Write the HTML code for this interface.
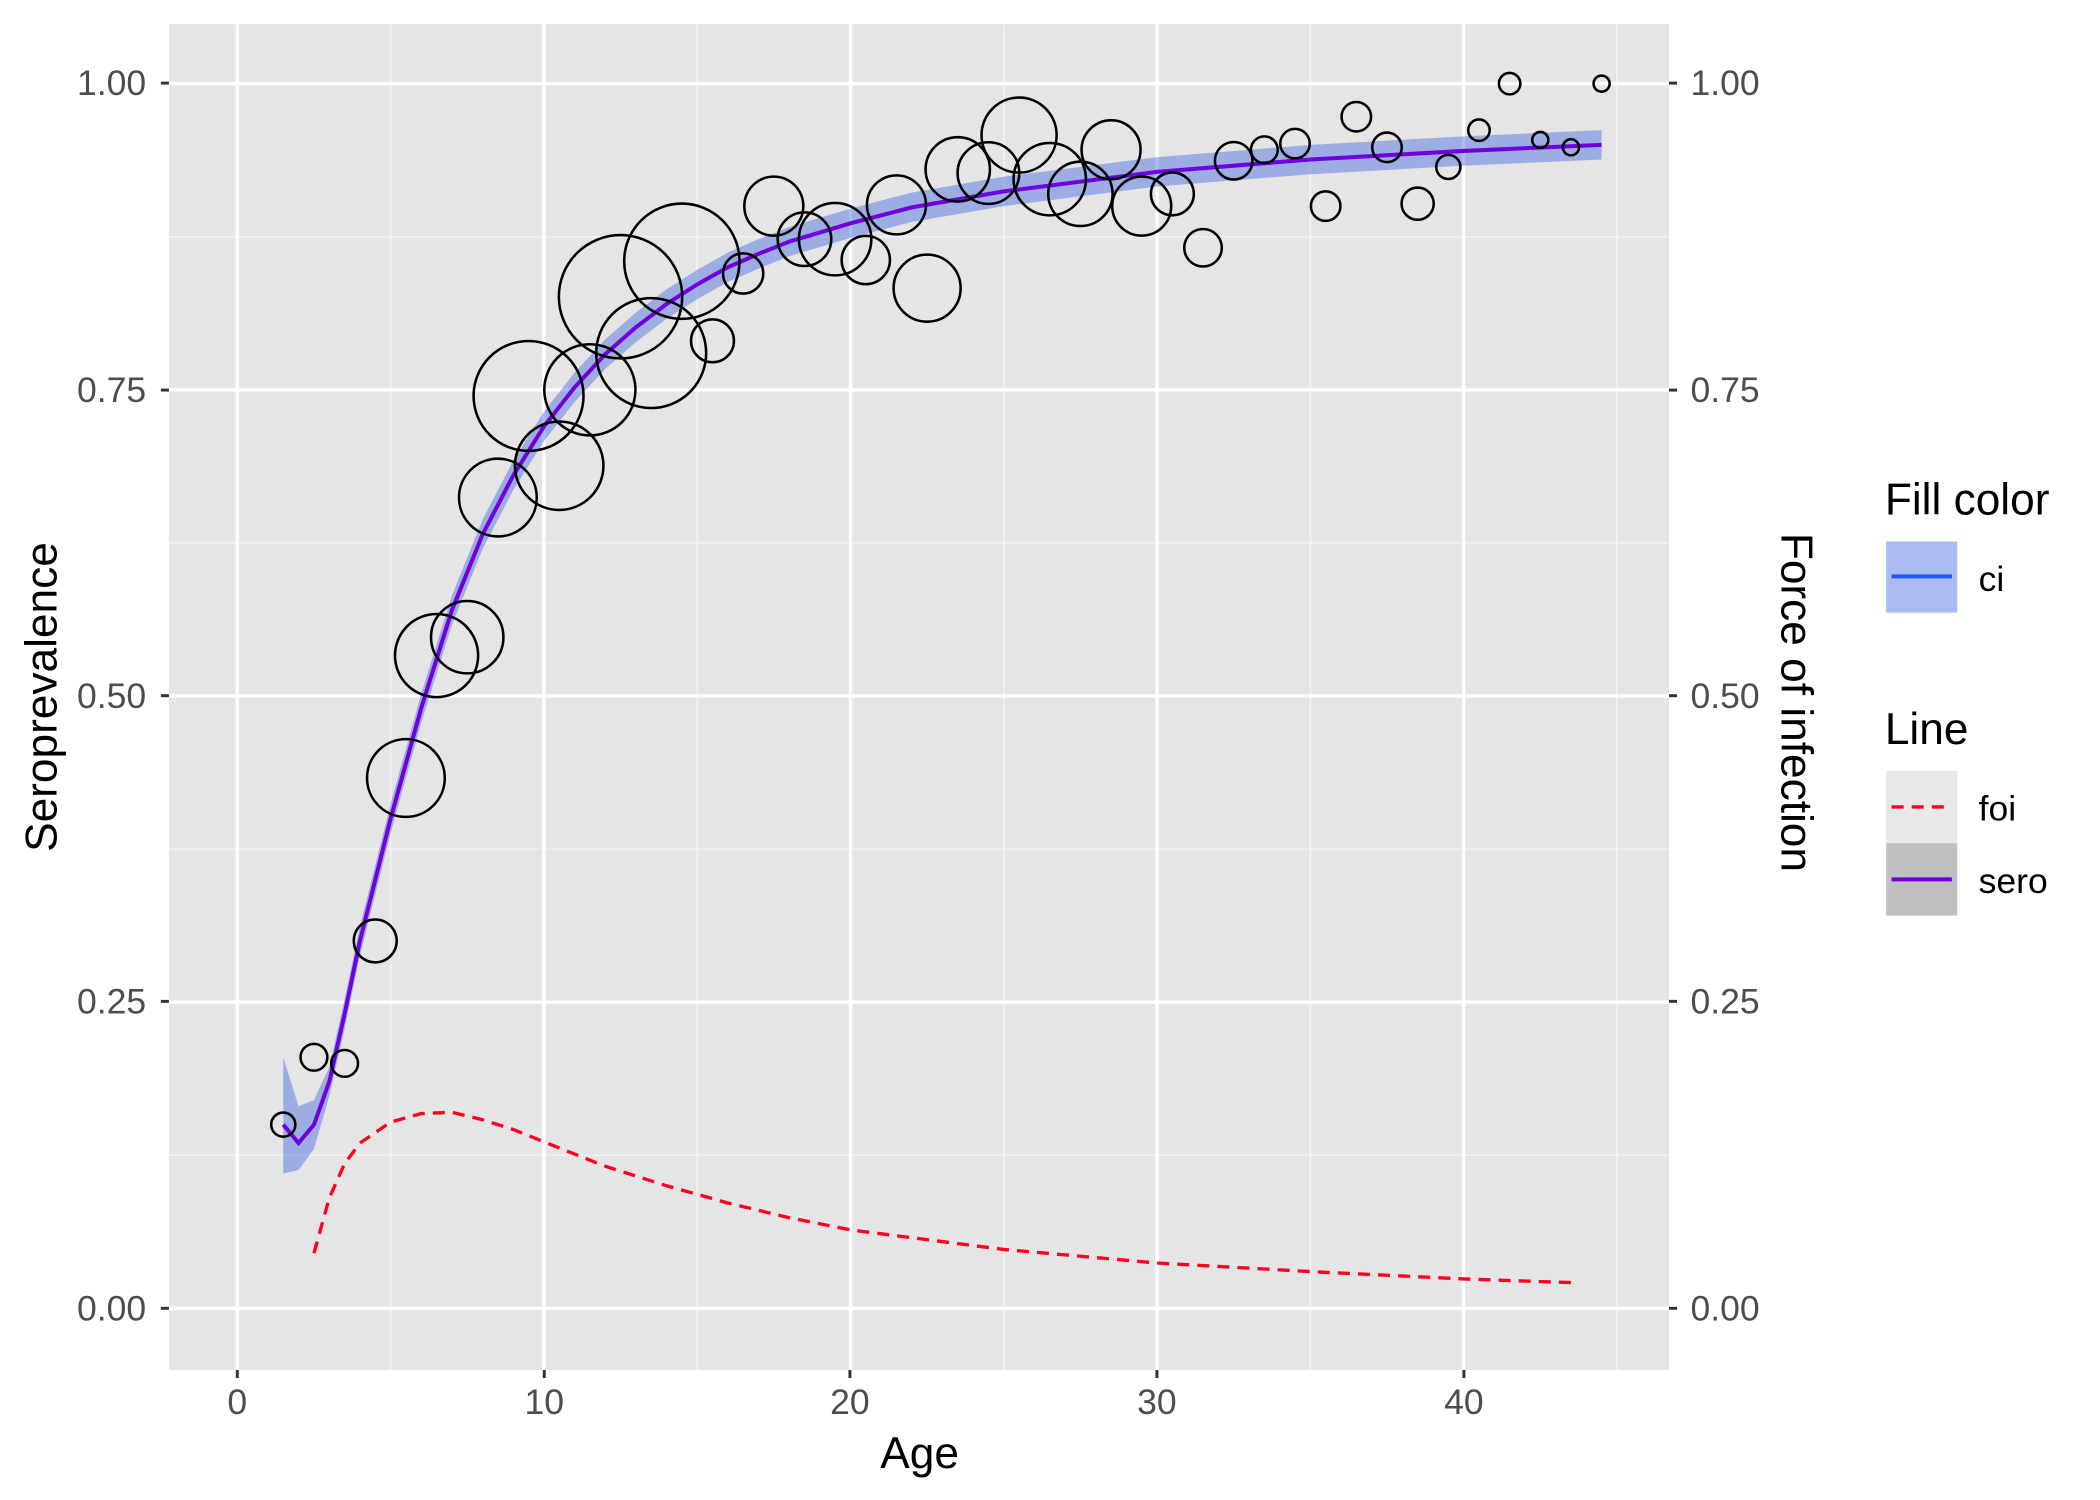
<!DOCTYPE html>
<html><head><meta charset="utf-8"><style>html,body{margin:0;padding:0;background:#fff}svg{display:block}text{font-family:"Liberation Sans",sans-serif}</style></head>
<body>
<svg id="s" width="2100" height="1500" viewBox="0 0 1566.5 1119" preserveAspectRatio="none" xmlns="http://www.w3.org/2000/svg">
<rect x="0" y="0" width="1567" height="1119" fill="#fff"/>
<rect x="126" y="18" width="1119" height="1004" fill="#e5e5e5"/>
<g id="grid"></g>
<path id="band" fill="#4169e1" fill-opacity="0.45" stroke="none"/>
<path id="foi" fill="none" stroke="#ff0022" stroke-width="2.5" stroke-dasharray="9,6"/>
<path id="sero" fill="none" stroke="#7000dd" stroke-width="3"/>
<g id="circ" fill="none" stroke="#000" stroke-width="1.9"></g>
<g font-size="26.5" fill="#4d4d4d" text-anchor="end">
<text x="109" y="71">1.00</text><text x="109" y="300">0.75</text><text x="109" y="528">0.50</text><text x="109" y="756">0.25</text><text x="109" y="985">0.00</text>
</g>
<g font-size="26.5" fill="#4d4d4d" text-anchor="start">
<text x="1261" y="71">1.00</text><text x="1261" y="300">0.75</text><text x="1261" y="528">0.50</text><text x="1261" y="756">0.25</text><text x="1261" y="985">0.00</text>
</g>
<g font-size="26.5" fill="#4d4d4d" text-anchor="middle">
<text x="177" y="1055">0</text><text x="406" y="1055">10</text><text x="634" y="1055">20</text><text x="863" y="1055">30</text><text x="1092" y="1055">40</text>
</g>
<g stroke="#333" stroke-width="2.2">
<line x1="120" y1="62" x2="126" y2="62"/><line x1="120" y1="291" x2="126" y2="291"/><line x1="120" y1="519" x2="126" y2="519"/><line x1="120" y1="747" x2="126" y2="747"/><line x1="120" y1="976" x2="126" y2="976"/>
<line x1="1245" y1="62" x2="1251" y2="62"/><line x1="1245" y1="291" x2="1251" y2="291"/><line x1="1245" y1="519" x2="1251" y2="519"/><line x1="1245" y1="747" x2="1251" y2="747"/><line x1="1245" y1="976" x2="1251" y2="976"/>
<line x1="177" y1="1022" x2="177" y2="1028"/><line x1="406" y1="1022" x2="406" y2="1028"/><line x1="634" y1="1022" x2="634" y2="1028"/><line x1="863" y1="1022" x2="863" y2="1028"/><line x1="1092" y1="1022" x2="1092" y2="1028"/>
</g>
<text x="686" y="1095" font-size="33" text-anchor="middle" fill="#000">Age</text>
<text transform="translate(42,520) rotate(-90)" font-size="33" text-anchor="middle" fill="#000">Seroprevalence</text>
<text transform="translate(1329,524) rotate(90)" font-size="33" text-anchor="middle" fill="#000">Force of infection</text>
<text x="1406" y="384" font-size="33" fill="#000">Fill color</text>
<rect x="1407" y="404" width="53" height="53" fill="#4169e1" fill-opacity="0.45"/>
<line x1="1411" y1="430" x2="1456" y2="430" stroke="#2255ff" stroke-width="3"/>
<text x="1476" y="441" font-size="26.5" fill="#000">ci</text>
<text x="1406" y="555" font-size="33" fill="#000">Line</text>
<rect x="1407" y="575" width="53" height="54" fill="#e8e8e8"/>
<rect x="1407" y="629" width="53" height="54" fill="#c0c0c0"/>
<line x1="1411" y1="602" x2="1456" y2="602" stroke="#ff0022" stroke-width="2.5" stroke-dasharray="9,6"/>
<line x1="1411" y1="656" x2="1456" y2="656" stroke="#7000dd" stroke-width="3"/>
<text x="1476" y="612" font-size="26.5" fill="#000">foi</text>
<text x="1476" y="666" font-size="26.5" fill="#000">sero</text>
</svg>
<script>
var X=a=>177+a*22.87, Y=v=>976-v*913.6;
var g=document.getElementById('grid'),h='';
[5,15,25,35,45].forEach(a=>h+='<line x1="'+X(a)+'" x2="'+X(a)+'" y1="18" y2="1022" stroke="#f2f2f2" stroke-width="1.3"/>');
[0.125,0.375,0.625,0.875].forEach(v=>h+='<line y1="'+Y(v)+'" y2="'+Y(v)+'" x1="126" x2="1245" stroke="#f2f2f2" stroke-width="1.3"/>');
[0,10,20,30,40].forEach(a=>h+='<line x1="'+X(a)+'" x2="'+X(a)+'" y1="18" y2="1022" stroke="#fff" stroke-width="2.5"/>');
[0,0.25,0.5,0.75,1].forEach(v=>h+='<line y1="'+Y(v)+'" y2="'+Y(v)+'" x1="126" x2="1245" stroke="#fff" stroke-width="2.5"/>');
g.innerHTML=h;
var S=[[1.5,0.15],[2,0.135],[2.5,0.15],[3,0.185],[3.5,0.24],[4,0.3],[5,0.4],[6,0.49],[7,0.57],[8,0.632],[9,0.68],[10,0.72],[11,0.752],[12,0.779],[13,0.801],[14,0.82],[15,0.836],[16,0.85],[17,0.861],[18,0.871],[20,0.886],[22,0.899],[25,0.912],[30,0.928],[35,0.938],[40,0.945],[44.5,0.95]];
document.getElementById('sero').setAttribute('d','M'+S.map(p=>X(p[0]).toFixed(1)+','+Y(p[1]).toFixed(1)).join(' L'));
var up=S.map(p=>{var w=p[0]<2.2?(p[0]<1.8?0.055:0.03):(p[0]<3?0.02:0.012);return [p[0],p[1]+w];});
var lo=S.map(p=>{var w=p[0]<2.2?(p[0]<1.8?0.04:0.022):(p[0]<3?0.02:0.012);return [p[0],p[1]-w];});
document.getElementById('band').setAttribute('d','M'+up.map(p=>X(p[0]).toFixed(1)+','+Y(p[1]).toFixed(1)).join(' L')+' L'+lo.reverse().map(p=>X(p[0]).toFixed(1)+','+Y(p[1]).toFixed(1)).join(' L')+'Z');
var F=[[2.5,0.045],[3,0.09],[3.5,0.118],[4,0.135],[5,0.152],[6,0.159],[7,0.16],[8,0.154],[9,0.146],[10,0.136],[12,0.116],[14,0.1],[16,0.086],[18,0.074],[20,0.064],[25,0.048],[30,0.037],[35,0.03],[40,0.024],[43.5,0.021]];
document.getElementById('foi').setAttribute('d','M'+F.map(p=>X(p[0]).toFixed(1)+','+Y(p[1]).toFixed(1)).join(' L'));
var C=[[1.5,0.15,9],[2.5,0.205,10],[3.5,0.2,10],[4.5,0.3,16],[5.5,0.433,29],[6.5,0.533,31],[7.5,0.548,27],[8.5,0.662,29],[9.5,0.745,41],[10.5,0.688,33],[11.5,0.75,34],[12.5,0.826,46],[13.5,0.78,41],[14.5,0.855,43],[15.5,0.79,16],[16.5,0.845,15],[17.5,0.9,22],[18.5,0.873,20],[19.5,0.873,27],[20.5,0.856,18],[21.5,0.901,22],[22.5,0.833,25],[23.5,0.93,24],[24.5,0.927,23],[25.5,0.958,28],[26.5,0.922,27],[27.5,0.91,24],[28.5,0.946,22],[29.5,0.9,22],[30.5,0.91,16],[31.5,0.866,14],[32.5,0.937,14],[33.5,0.946,10],[34.5,0.951,11],[35.5,0.9,11],[36.5,0.973,11],[37.5,0.948,11],[38.5,0.902,12],[39.5,0.932,9],[40.5,0.962,8],[41.5,1.0,8],[42.5,0.954,6],[43.5,0.948,6],[44.5,1.0,6]];
document.getElementById('circ').innerHTML=C.map(c=>'<circle cx="'+X(c[0])+'" cy="'+Y(c[1])+'" r="'+c[2]+'"/>').join('');
</script>
</body></html>
